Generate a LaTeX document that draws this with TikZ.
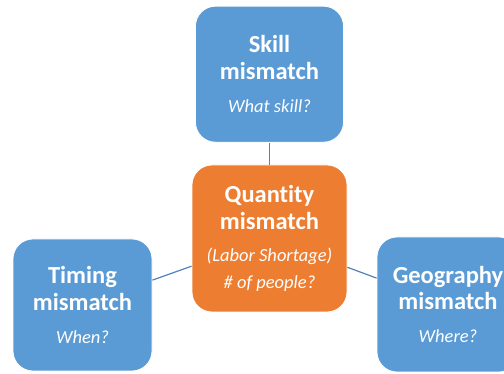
\documentclass[tikz,border=0pt]{standalone}
\usepackage{fontspec}
\setsansfont{Carlito}[Ligatures=NoCommon]
\usepackage{xcolor}
\usepackage{tikz}
\usetikzlibrary{positioning}

\definecolor{boxblue}{HTML}{5B9BD5}
\definecolor{boxorange}{HTML}{ED7D31}
\definecolor{linkblue}{HTML}{5082BE}

% smaller italic lines under the headings
\newcommand{\asktext}{\mdseries\itshape\fontsize{18.5}{26.5}\selectfont}

\begin{document}
\begin{tikzpicture}[x=1pt, y=1pt,
        box/.style={draw=white, line width=0.8pt, rounded corners=20pt, inner sep=0pt,
            text=white, align=center,
            font=\sffamily\bfseries\fontsize{24.5}{26.5}\selectfont},
        side/.style={box, fill=boxblue},
        core/.style={box, fill=boxorange},
        link/.style={draw=linkblue, line width=1.2pt}
    ]
        \useasboundingbox (0,0) rectangle (504,374);
        \clip (0,0) rectangle (504,374);

        \node [core, minimum width=155, minimum height=147] (qty) at (269.5,135.5)
            {Quantity\\mismatch\\[6pt]{\asktext (Labor Shortage)}\\{\asktext \# of people?}};
        \node [side, minimum width=148, minimum height=136, above=22pt of qty] (skill)
            {Skill\\mismatch\\[6.5pt]{\asktext What skill?}};
        \node [side, minimum width=139, minimum height=132] (timing) at (82.5,69)
            {Timing\\mismatch\\[6.5pt]{\asktext When?}};
        \node [side, minimum width=142, minimum height=135] (geo) at (448,69.5)
            {Geography\\mismatch\\[6.5pt]{\asktext Where?}};

        \draw [link] (skill) -- (qty);
        \draw [link] (timing) -- (qty);
        \draw [link] (geo) -- (qty);
    \end{tikzpicture}
\end{document}
